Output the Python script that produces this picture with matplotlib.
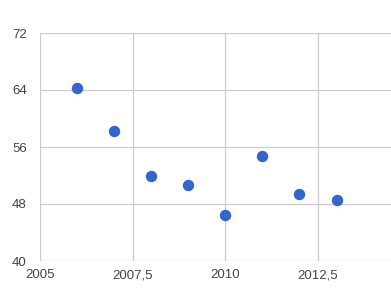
import matplotlib
matplotlib.use("Agg")
import matplotlib.pyplot as plt
from matplotlib.ticker import FuncFormatter

years = [2006, 2007, 2008, 2009, 2010, 2011, 2012, 2013]
values = [64.3, 58.3, 51.9, 50.6, 46.5, 54.7, 49.4, 48.5]
x_ticks = [2005, 2007.5, 2010, 2012.5]
y_ticks = [40, 48, 56, 64, 72]

plt.rcParams['font.family'] = ['Liberation Sans', 'DejaVu Sans']

fig = plt.figure(figsize=(3.91, 3.01), dpi=100)
ax = fig.add_axes([40 / 391, 40 / 301, 351 / 391, 228 / 301])

ax.scatter(years, values, s=52, color='#3366cc', zorder=3, clip_on=False)

ax.set_xlim(2005, 2014.47)
ax.set_ylim(40, 72)
ax.set_xticks(x_ticks)
ax.set_yticks(y_ticks)
ax.xaxis.set_major_formatter(FuncFormatter(lambda v, p: ('%g' % v).replace('.', ',')))
ax.grid(True, color='#cccccc', linewidth=0.9)
ax.set_axisbelow(True)
for s in ax.spines.values():
    s.set_visible(False)
ax.tick_params(length=0, labelsize=9.5, colors='#444444')
ax.tick_params(axis='y', pad=9.5)
ax.tick_params(axis='x', pad=6)

fig.savefig('out.png', dpi=100)
